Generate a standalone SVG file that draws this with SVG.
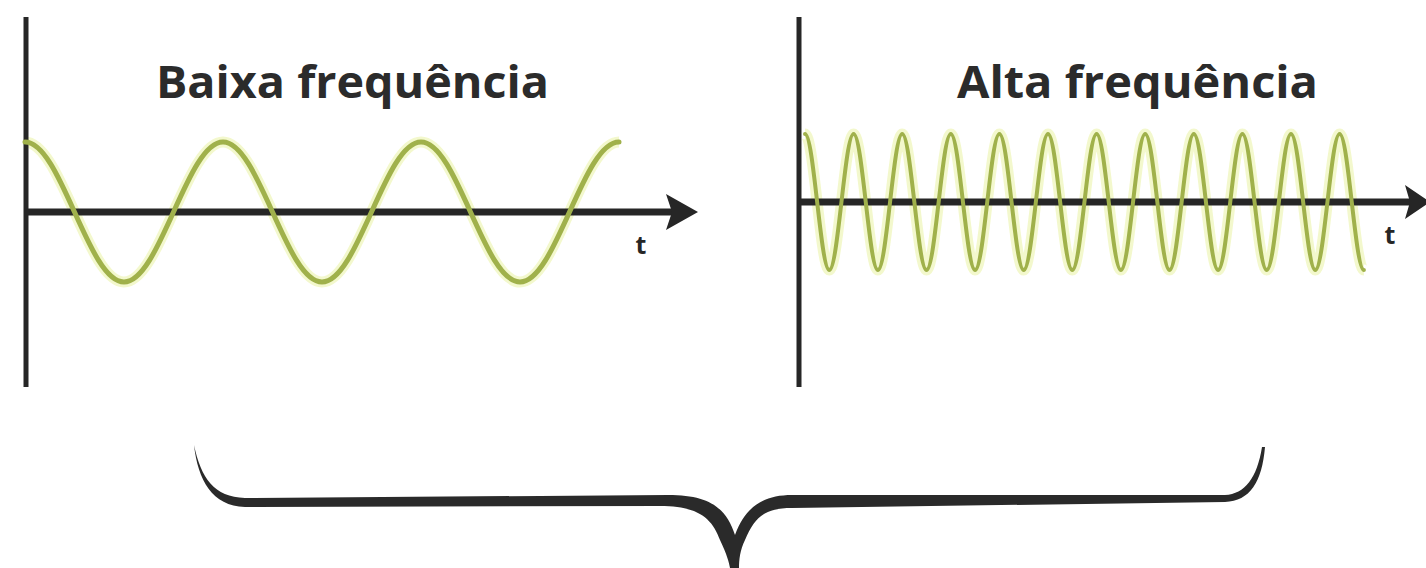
<svg xmlns="http://www.w3.org/2000/svg" width="1426" height="568" viewBox="0 0 1426 568">
<style>
.axis{stroke:#262626;stroke-width:5;fill:none}
.haxis{stroke:#262626;stroke-width:7;fill:none}
.head{fill:#262626}
.glow{stroke:#eef5b8;stroke-width:11;fill:none;opacity:0.7}
.wave{stroke:#a0b14b;fill:none;stroke-linecap:round}
.title{font-family:"Open Sans","Noto Sans",sans-serif;font-weight:700;font-size:45px;fill:#2b2b2b}
.t{font-family:"Open Sans","Noto Sans",sans-serif;font-weight:700;font-size:25px;fill:#262626;text-anchor:middle}
</style>
<rect width="1426" height="568" fill="#ffffff"/>
<g id="low-frequency">
  <path class="glow" d="M25,142 C61,142 88,282 124,282 S187,142 223,142 S286,282 322,282 S385,142 421,142 S484,282 520,282 S583,142 619,142"/>
  <line class="axis" x1="26" y1="17" x2="26" y2="387"/>
  <line class="haxis" x1="26" y1="212" x2="675" y2="212"/>
  <polygon class="head" points="666,194 698,212 666,230 672,212"/>
  <path class="wave" stroke-width="5" d="M25,142 C61,142 88,282 124,282 S187,142 223,142 S286,282 322,282 S385,142 421,142 S484,282 520,282 S583,142 619,142"/>
  <text class="title" x="156" y="98" textLength="393" lengthAdjust="spacingAndGlyphs">Baixa frequência</text>
  <text class="t" x="641" y="254">t</text>
</g>
<g id="high-frequency">
  <path class="glow" stroke-width="9" d="M805,134 C813.8,134 820.5,270 829.3,270 S844.8,134 853.6,134 S869.1,270 877.9,270 S893.4,134 902.2,134 S917.7,270 926.5,270 S942,134 950.8,134 S966.3,270 975.1,270 S990.6,134 999.4,134 S1014.9,270 1023.7,270 S1039.2,134 1048,134 S1063.5,270 1072.3,270 S1087.8,134 1096.6,134 S1112.1,270 1120.9,270 S1136.4,134 1145.2,134 S1160.7,270 1169.5,270 S1185,134 1193.8,134 S1209.3,270 1218.1,270 S1233.6,134 1242.4,134 S1257.9,270 1266.7,270 S1282.2,134 1291,134 S1306.5,270 1315.3,270 S1330.8,134 1339.6,134 S1355.1,270 1363.9,270"/>
  <line class="axis" x1="799" y1="17" x2="799" y2="387"/>
  <line class="haxis" x1="799" y1="202" x2="1412" y2="202"/>
  <polygon class="head" points="1405,185 1430,202 1405,219 1410,202"/>
  <path class="wave" stroke-width="4" d="M805,134 C813.8,134 820.5,270 829.3,270 S844.8,134 853.6,134 S869.1,270 877.9,270 S893.4,134 902.2,134 S917.7,270 926.5,270 S942,134 950.8,134 S966.3,270 975.1,270 S990.6,134 999.4,134 S1014.9,270 1023.7,270 S1039.2,134 1048,134 S1063.5,270 1072.3,270 S1087.8,134 1096.6,134 S1112.1,270 1120.9,270 S1136.4,134 1145.2,134 S1160.7,270 1169.5,270 S1185,134 1193.8,134 S1209.3,270 1218.1,270 S1233.6,134 1242.4,134 S1257.9,270 1266.7,270 S1282.2,134 1291,134 S1306.5,270 1315.3,270 S1330.8,134 1339.6,134 S1355.1,270 1363.9,270"/>
  <text class="title" x="957" y="98" textLength="361" lengthAdjust="spacingAndGlyphs">Alta frequência</text>
  <text class="t" x="1390" y="244">t</text>
</g>
<g id="brace">
  <path fill="#2a2a2a" d="M194,445 C198,480 212,506 245,507 L660,506 C698,506 712,518 720,540 C727,555 729,562 730,568 L739,568 C739,560 740,550 745,540 C755,516 766,508 792,508 L1225,502 C1250,501 1262,482 1265,447 L1262,447 C1257,478 1245,494 1225,495 L792,495 C762,495 745,508 735,535 C726,508 710,495 668,495 L245,498 C214,497 201,478 194,445 Z"/>
</g>
</svg>
